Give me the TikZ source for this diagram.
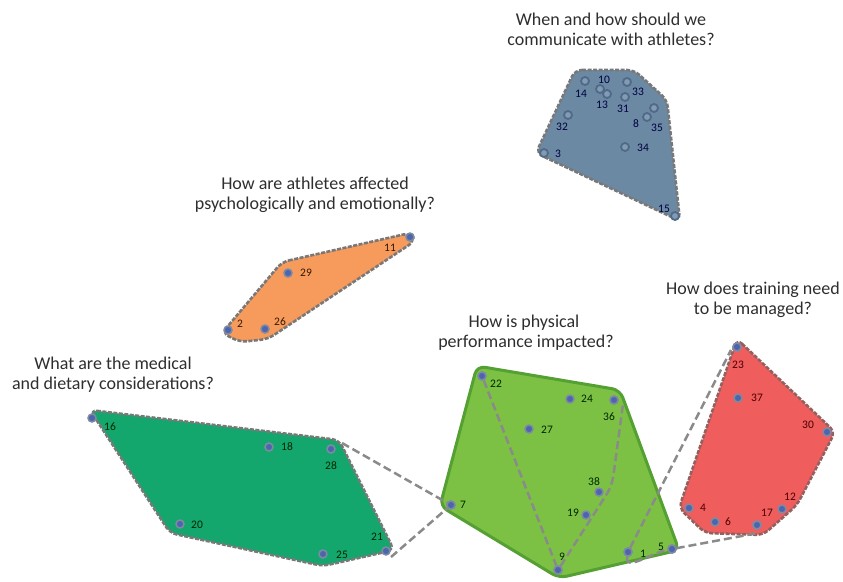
\documentclass[tikz,border=0pt]{standalone}
\usepackage{fontspec}
\setmainfont{Carlito}
\definecolor{slatefill}{HTML}{6C89A4}
\definecolor{orangefill}{HTML}{F79B5C}
\definecolor{dgreenfill}{HTML}{14A76D}
\definecolor{lgreenfill}{HTML}{7CC144}
\definecolor{lgreenline}{HTML}{55A033}
\definecolor{redfill}{HTML}{EF5D5D}
\definecolor{hullgray}{HTML}{787878}
\definecolor{linkgray}{HTML}{8A8A8A}
\definecolor{ptfill}{HTML}{4C66AE}
\definecolor{ptring}{HTML}{7F8AA2}
\definecolor{bring}{HTML}{4E6A88}
\definecolor{titlegray}{HTML}{2E2E2E}
\begin{document}
\begin{tikzpicture}[x=1pt,y=-1pt,
  title/.style={font=\fontsize{18}{20}\selectfont,text=titlegray,anchor=base,inner sep=0pt},
  lbl/.style={font=\fontsize{11.5}{13}\selectfont,text=black!85,inner sep=0pt},
  pt/.style={circle,inner sep=0pt,minimum size=8pt,fill=ptfill,draw=ptring,line width=1.5pt},
  bpt/.style={circle,inner sep=0pt,minimum size=8pt,fill=slatefill!85!white,draw=bring,line width=1.8pt},
  hull/.style={draw=hullgray,line width=2.6pt,dash pattern=on 4pt off 1.5pt,rounded corners=7pt},
  link/.style={draw=linkgray,line width=2.5pt,dash pattern=on 8pt off 4pt}]
\useasboundingbox (0,0) rectangle (843,581);

% ---------- hull shapes ----------
\path[hull,fill=slatefill] (575,70) -- (634,70) -- (667,100) -- (680,221) -- (536,153) -- cycle;
\path[hull,fill=orangefill] (282,262) -- (410,233) -- (415,241) -- (268,339) -- (240,342) -- (222,333) -- cycle;
\path[hull,fill=dgreenfill] (90,410) -- (339,440) -- (394,550) -- (323,566) -- (170,533) -- cycle;
\path[draw=lgreenline,line width=3pt,fill=lgreenfill,rounded corners=8pt] (477,366) -- (620,390) -- (679,550) -- (559,578) -- (440,506) -- cycle;
\path[hull,draw=hullgray!80!red,fill=redfill] (737,339) -- (835,432) -- (797,505) -- (763,535) -- (705,533) -- (679,508) -- cycle;

% ---------- titles ----------
\node[title] (ta1) at (611,25) {When and how should we};
\node[title] (ta2) at (611,45) {communicate with athletes?};
\node[title] (tb1) at (315,189) {How are athletes affected};
\node[title] (tb2) at (315,209) {psychologically and emotionally?};
\node[title] (tc1) at (113,369) {What are the medical};
\node[title] (tc2) at (113,389) {and dietary considerations?};
\node[title] (td1) at (524,327) {How is physical};
\node[title] (td2) at (526,347) {performance impacted?};
\node[title] (te1) at (753,294) {How does training need};
\node[title] (te2) at (753,314) {to be managed?};

% ---------- points ----------
% blue
\node[bpt] (p14) at (585,81) {};
\node[bpt] (p10) at (600,89) {};
\node[bpt] (p13) at (607,94) {};
\node[bpt] (p33) at (627,82) {};
\node[bpt] (p31) at (625,97) {};
\node[bpt] (p35) at (654,108) {};
\node[bpt] (p8) at (647,117) {};
\node[bpt] (p32) at (568,115) {};
\node[bpt] (p3) at (544,153) {};
\node[bpt] (p34) at (625,147) {};
\node[bpt] (p15) at (675,216) {};
% orange
\node[pt] (p11) at (410,237) {};
\node[pt] (p29) at (288,273) {};
\node[pt] (p2) at (228,330) {};
\node[pt] (p26) at (265,329) {};
% dark green
\node[pt] (p16) at (92,418) {};
\node[pt] (p18) at (269,447) {};
\node[pt] (p28) at (331,449) {};
\node[pt] (p20) at (180,524) {};
\node[pt] (p25) at (323,554) {};
\node[pt] (p21) at (386,551) {};
% light green
\node[pt] (p22) at (482,376) {};
\node[pt] (p24) at (570,399) {};
\node[pt] (p36) at (614,400) {};
\node[pt] (p27) at (529,429) {};
\node[pt] (p38) at (599,492) {};
\node[pt] (p19) at (586,515) {};
\node[pt] (p7) at (451,505) {};
\node[pt] (p9) at (558,570) {};
\node[pt] (p1) at (628,552) {};
\node[pt] (p5) at (672,549) {};
% red
\node[pt] (p23) at (737,347) {};
\node[pt] (p37) at (738,398) {};
\node[pt] (p30) at (827,432) {};
\node[pt] (p12) at (782,509) {};
\node[pt] (p17) at (757,525) {};
\node[pt] (p6) at (715,522) {};
\node[pt] (p4) at (689,508) {};

% ---------- connector corners ----------
\coordinate (c28) at (342,443);
\coordinate (c21) at (391,557);
\coordinate (c36) at (623,404);
\coordinate (cbend) at (612,486);
\coordinate (c23) at (731,350);
\coordinate (c17) at (758,533);

% ---------- dashed connectors ----------
\draw[link] (c28) -- (p7);
\draw[link] (c21) -- (p7);
\draw[link] (p22) -- (p9);
\draw[link,rounded corners=10pt] (p9) -- (cbend) -- (c36);
\draw[link] (p1) -- (c23);
\draw[link] (p1) to[out=-100,in=-170] (p5);
\draw[link] (p5) -- (c17);

% redraw points above connectors
\foreach \p in {p7,p9,p1,p5,p22,p36,p23,p17}{\node[pt] at (\p) {};}

% ---------- labels ----------
\node[lbl,text=black!75!blue] (l10) at (604,80) {10};
\node[lbl,text=black!75!blue] (l14) at (581,94) {14};
\node[lbl,text=black!75!blue] (l13) at (602,105) {13};
\node[lbl,text=black!75!blue] (l33) at (638,92) {33};
\node[lbl,text=black!75!blue] (l31) at (623,109) {31};
\node[lbl,text=black!75!blue] (l8) at (636,124) {8};
\node[lbl,text=black!75!blue] (l35) at (657,128) {35};
\node[lbl,text=black!75!blue] (l32) at (562,127) {32};
\node[lbl,text=black!75!blue] (l3) at (558,154) {3};
\node[lbl,text=black!75!blue] (l34) at (643,148) {34};
\node[lbl,text=black!75!blue] (l15) at (664,209) {15};
\node[lbl,text=black!80!orange] (l11) at (390,248) {11};
\node[lbl,text=black!80!orange] (l29) at (306,273) {29};
\node[lbl,text=black!80!orange] (l2) at (240,324) {2};
\node[lbl,text=black!80!orange] (l26) at (280,322) {26};
\node[lbl,text=black!85!green] (l16) at (110,427) {16};
\node[lbl,text=black!85!green] (l18) at (287,447) {18};
\node[lbl,text=black!85!green] (l28) at (331,466) {28};
\node[lbl,text=black!85!green] (l20) at (197,525) {20};
\node[lbl,text=black!85!green] (l25) at (342,555) {25};
\node[lbl,text=black!85!green] (l21) at (377,537) {21};
\node[lbl,text=black!85!green] (l22) at (496,384) {22};
\node[lbl,text=black!85!green] (l24) at (587,399) {24};
\node[lbl,text=black!85!green] (l36) at (609,417) {36};
\node[lbl,text=black!85!green] (l27) at (547,430) {27};
\node[lbl,text=black!85!green] (l38) at (594,482) {38};
\node[lbl,text=black!85!green] (l19) at (573,513) {19};
\node[lbl,text=black!85!green] (l7) at (463,505) {7};
\node[lbl,text=black!85!green] (l9) at (562,557) {9};
\node[lbl,text=black!85!green] (l1) at (643,554) {1};
\node[lbl,text=black!85!green] (l5) at (661,547) {5};
\node[lbl,text=black!70!red] (l23) at (738,365) {23};
\node[lbl,text=black!70!red] (l37) at (757,398) {37};
\node[lbl,text=black!70!red] (l30) at (808,425) {30};
\node[lbl,text=black!70!red] (l12) at (790,497) {12};
\node[lbl,text=black!70!red] (l17) at (767,513) {17};
\node[lbl,text=black!70!red] (l6) at (728,522) {6};
\node[lbl,text=black!70!red] (l4) at (703,508) {4};
\end{tikzpicture}
\end{document}
